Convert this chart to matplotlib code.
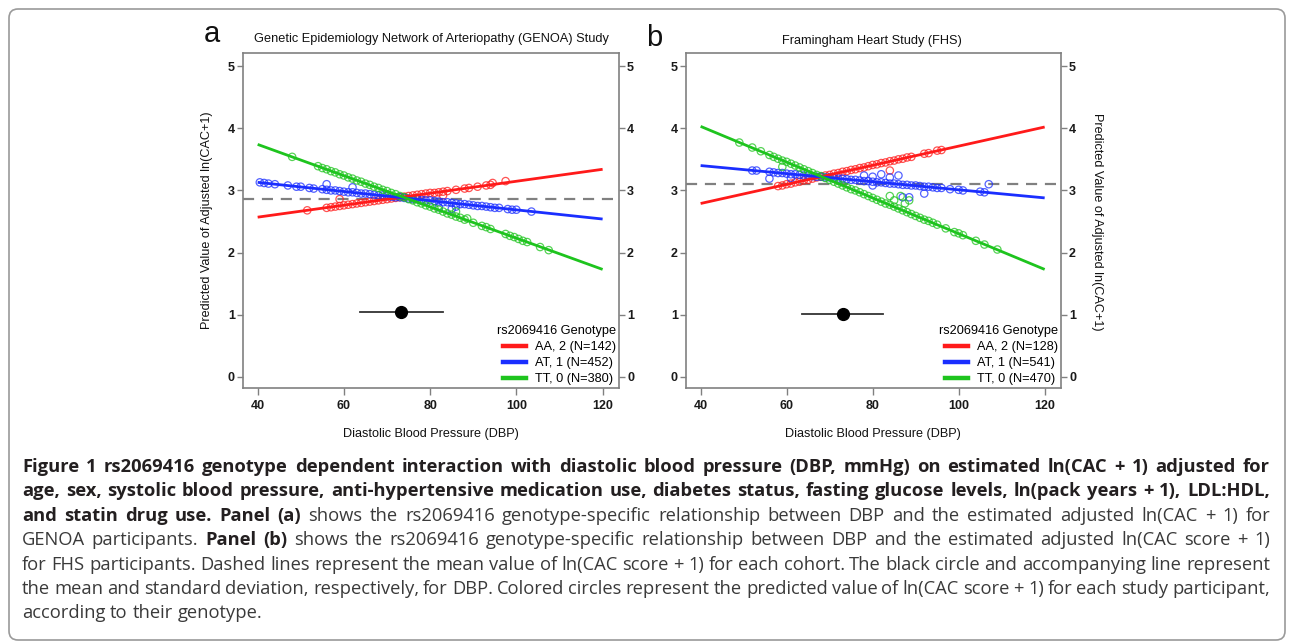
import matplotlib
matplotlib.use('Agg')
import matplotlib.pyplot as plt
from matplotlib.patches import FancyBboxPatch
from matplotlib.lines import Line2D
from matplotlib.transforms import IdentityTransform

# ---------------- data ----------------
genotype_labels_a = ["AA, 2 (N=142)", "AT, 1 (N=452)", "TT, 0 (N=380)"]
genotype_labels_b = ["AA, 2 (N=128)", "AT, 1 (N=541)", "TT, 0 (N=470)"]
legend_title = "rs2069416 Genotype"

fit_x = [40, 120]
# panel a fitted lines
a_red_fit = [2.57, 3.34]
a_blue_fit = [3.13, 2.54]
a_green_fit = [3.74, 1.73]
a_mean_cac = 2.87
a_dbp_mean, a_dbp_sd, a_dbp_y = 73.3, 9.6, 1.04
# panel b fitted lines
b_red_fit = [2.79, 4.02]
b_blue_fit = [3.40, 2.88]
b_green_fit = [4.03, 1.73]
b_mean_cac = 3.11
b_dbp_mean, b_dbp_sd, b_dbp_y = 73.0, 9.5, 1.02

# panel a participant predictions
a_red_x = [51.5, 56, 57, 58, 59, 59, 60, 61, 62, 63, 64, 65, 66, 67, 68, 69, 70, 71, 72, 73, 74, 75,
           76, 77, 78, 79, 80, 81, 82, 83, 83, 84, 86, 88, 89, 91, 93, 94, 94.5, 97.5]
a_red_y = [2.68, 2.72, 2.73, 2.74, 2.75, 2.86, 2.76, 2.77, 2.78, 2.79, 2.80, 2.81, 2.82, 2.83, 2.84,
           2.85, 2.86, 2.87, 2.88, 2.89, 2.90, 2.91, 2.92, 2.93, 2.94, 2.95, 2.96, 2.96, 2.97, 2.98,
           2.92, 2.99, 3.01, 3.03, 3.04, 3.06, 3.08, 3.09, 3.12, 3.15]
a_blue_x = [40.5, 41.5, 42.5, 44, 47, 49, 50, 52, 53, 55, 56, 56, 57, 58, 59, 60, 61, 62, 62, 63, 64,
            65, 66, 67, 68, 69, 70, 71, 72, 73, 74, 75, 76, 77, 78, 79, 80, 81, 82, 82, 83, 84, 85,
            85, 86, 86, 87, 88, 89, 90, 91, 92, 93, 94, 95, 96, 98, 99, 100, 103.5]
a_blue_y = [3.13, 3.12, 3.11, 3.10, 3.08, 3.06, 3.06, 3.04, 3.03, 3.02, 3.01, 3.10, 3.00, 3.00, 2.99,
            2.98, 2.97, 2.97, 3.05, 2.96, 2.95, 2.95, 2.94, 2.93, 2.92, 2.92, 2.91, 2.90, 2.89, 2.89,
            2.88, 2.87, 2.86, 2.86, 2.85, 2.84, 2.84, 2.83, 2.82, 2.73, 2.81, 2.81, 2.80, 2.70, 2.79,
            2.74, 2.78, 2.78, 2.77, 2.76, 2.75, 2.75, 2.74, 2.73, 2.72, 2.72, 2.70, 2.69, 2.69, 2.66]
a_green_x = [48, 54, 55, 56, 57, 58, 59, 60, 61, 62, 63, 64, 65, 66, 67, 68, 69, 70, 71, 72, 73, 74,
             75, 76, 77, 78, 79, 80, 81, 82, 83, 84, 85, 86, 86, 87, 88, 88.6, 90, 92, 93, 94, 97.5,
             98.5, 99.5, 100.5, 101.5, 102.5, 105.5, 107.5]
a_green_y = [3.54, 3.39, 3.36, 3.34, 3.31, 3.29, 3.26, 3.24, 3.21, 3.19, 3.16, 3.14, 3.11, 3.09, 3.06,
             3.04, 3.01, 2.99, 2.96, 2.94, 2.91, 2.89, 2.86, 2.84, 2.81, 2.79, 2.76, 2.74, 2.71, 2.69,
             2.66, 2.63, 2.61, 2.58, 2.66, 2.56, 2.53, 2.55, 2.48, 2.43, 2.41, 2.38, 2.30, 2.27, 2.25,
             2.22, 2.19, 2.17, 2.09, 2.04]

# panel b participant predictions
b_red_x = [58, 59, 60, 61, 62, 63, 64, 65, 66, 67, 68, 69, 70, 71, 72, 73, 74, 75, 76, 77, 78, 79,
           80, 81, 82, 83, 84, 84, 85, 86, 87, 88, 89, 92, 93, 95, 96]
b_red_y = [3.07, 3.08, 3.10, 3.11, 3.13, 3.14, 3.16, 3.17, 3.19, 3.21, 3.22, 3.24, 3.25, 3.27, 3.28,
           3.30, 3.31, 3.33, 3.34, 3.36, 3.37, 3.39, 3.41, 3.42, 3.44, 3.45, 3.47, 3.32, 3.48, 3.50,
           3.51, 3.53, 3.54, 3.59, 3.60, 3.64, 3.65]
b_blue_x = [52, 53, 56, 56, 57, 58, 59, 60, 61, 61, 62, 63, 64, 65, 66, 67, 68, 69, 70, 71, 72, 73,
            74, 75, 76, 77, 78, 78, 79, 80, 80, 80, 81, 82, 82, 83, 84, 84, 85, 86, 86, 87, 87, 88,
            88.5, 89, 90, 91, 92, 92, 93, 94, 95, 96, 98, 100, 101, 105, 106, 107]
b_blue_y = [3.32, 3.32, 3.30, 3.19, 3.29, 3.28, 3.28, 3.27, 3.26, 3.20, 3.26, 3.25, 3.24, 3.24, 3.23,
            3.22, 3.22, 3.21, 3.21, 3.20, 3.19, 3.19, 3.18, 3.17, 3.17, 3.16, 3.15, 3.24, 3.15, 3.14,
            3.22, 3.08, 3.13, 3.13, 3.26, 3.12, 3.11, 3.21, 3.11, 3.10, 3.24, 3.09, 2.89, 3.09, 2.89,
            3.08, 3.08, 3.07, 3.06, 2.95, 3.06, 3.05, 3.04, 3.04, 3.02, 3.01, 3.00, 2.98, 2.97, 3.10]
b_green_x = [49, 52, 54, 56, 57, 58, 59, 59, 60, 61, 62, 63, 64, 65, 66, 67, 68, 69, 70, 71, 72, 73,
             74, 75, 76, 77, 78, 79, 80, 81, 82, 83, 84, 84, 85, 85, 86, 86.5, 87, 87.5, 88, 88.5, 89,
             90, 91, 92, 93, 94, 95, 97, 99, 100, 101, 104, 106, 109]
b_green_y = [3.77, 3.69, 3.63, 3.57, 3.54, 3.51, 3.48, 3.38, 3.46, 3.43, 3.40, 3.37, 3.34, 3.31, 3.28,
             3.25, 3.23, 3.20, 3.17, 3.14, 3.11, 3.08, 3.05, 3.02, 3.00, 2.97, 2.94, 2.91, 2.88, 2.85,
             2.82, 2.79, 2.77, 2.91, 2.74, 2.84, 2.71, 2.91, 2.68, 2.79, 2.65, 2.84, 2.62, 2.59, 2.56,
             2.53, 2.51, 2.48, 2.45, 2.39, 2.33, 2.31, 2.28, 2.19, 2.13, 2.05]

x_ticks = [40, 60, 80, 100, 120]
y_ticks = [0, 1, 2, 3, 4, 5]

titles = ["Genetic Epidemiology Network of Arteriopathy (GENOA) Study", "Framingham Heart Study (FHS)"]
panel_letters = ["a", "b"]
xlabel = "Diastolic Blood Pressure (DBP)"
ylabel = "Predicted Value of Adjusted ln(CAC+1)"

caption_lines = [
    [("Figure 1 rs2069416 genotype dependent interaction with diastolic blood pressure (DBP, mmHg) on estimated ln(CAC + 1) adjusted for", True)],
    [("age, sex, systolic blood pressure, anti-hypertensive medication use, diabetes status, fasting glucose levels, ln(pack years + 1), LDL:HDL,", True)],
    [("and statin drug use. Panel (a)", True), ("shows the rs2069416 genotype-specific relationship between DBP and the estimated adjusted ln(CAC + 1) for", False)],
    [("GENOA participants.", False), ("Panel (b)", True), ("shows the rs2069416 genotype-specific relationship between DBP and the estimated adjusted ln(CAC score + 1)", False)],
    [("for FHS participants. Dashed lines represent the mean value of ln(CAC score + 1) for each cohort. The black circle and accompanying line represent", False)],
    [("the mean and standard deviation, respectively, for DBP. Colored circles represent the predicted value of ln(CAC score + 1) for each study participant,", False)],
    [("according to their genotype.", False)],
]

# ---------------- style ----------------
W, H = 1290, 644
RED, BLUE, GREEN = "#ff1a1a", "#1a2eff", "#1ec41e"
GRAY = "#808080"
CHART_FONT = "Liberation Sans"

fig = plt.figure(figsize=(W / 100, H / 100), dpi=100)


def fx(x):
    return x / W


def fy(y):
    return 1 - y / H


def make_panel(left_px, right_px, red_fit, blue_fit, green_fit, mean_cac,
               dbp_mean, dbp_sd, dbp_y, pts, labels):
    top_px, bot_px = 53, 388
    ax = fig.add_axes([fx(left_px), fy(bot_px), (right_px - left_px) / W, (bot_px - top_px) / H])
    ax.set_xlim(36.6, 123.8)
    ax.set_ylim(-0.177, 5.21)
    ax.axhline(mean_cac, color=GRAY, lw=1.6, ls=(0, (5, 3.5)), zorder=1)
    for (xs, ys), c in zip(pts, [RED, BLUE, GREEN]):
        ax.scatter(xs, ys, s=28, facecolors="none", edgecolors=c, linewidths=0.9, alpha=0.75, zorder=2)
    for fit, c in zip([red_fit, blue_fit, green_fit], [RED, BLUE, GREEN]):
        ax.plot(fit_x, fit, color=c, lw=2.0, zorder=3, solid_capstyle="butt")
    ax.plot([dbp_mean - dbp_sd, dbp_mean + dbp_sd], [dbp_y, dbp_y], color="#333333", lw=1.3, zorder=4)
    ax.plot([dbp_mean], [dbp_y], "o", color="black", ms=8.5, zorder=5)
    ax.set_xticks(x_ticks)
    ax.set_yticks(y_ticks)
    for s in ax.spines.values():
        s.set_color(GRAY)
        s.set_linewidth(1.2)
    ax.tick_params(axis="y", which="both", left=True, right=True, labelleft=True, labelright=True,
                   direction="out", length=4.3, width=1.0, color=GRAY, pad=1.5)
    ax.tick_params(axis="x", direction="out", length=5, width=1.0, color=GRAY, pad=3.5)
    for lab in ax.get_xticklabels():
        lab.set_fontfamily(CHART_FONT)
        lab.set_fontweight("bold")
        lab.set_fontsize(9)
        lab.set_color("#1a1a1a")
    for tick in ax.yaxis.get_major_ticks():
        for lab in (tick.label1, tick.label2):
            lab.set_fontfamily(CHART_FONT)
            lab.set_fontweight("bold")
            lab.set_fontsize(9)
            lab.set_color("#1a1a1a")
    handles = [Line2D([], [], color=c, lw=3.2) for c in [RED, BLUE, GREEN]]
    ax.legend(handles, labels, title=legend_title, loc="lower right", frameon=False,
              prop={"family": CHART_FONT, "size": 9.2},
              title_fontproperties={"family": CHART_FONT, "size": 9.2},
              handlelength=1.85, handletextpad=0.7, labelspacing=0.32, borderaxespad=0.1,
              borderpad=0.1, alignment="right")
    return ax


ax_a = make_panel(243, 619, a_red_fit, a_blue_fit, a_green_fit, a_mean_cac, a_dbp_mean, a_dbp_sd, a_dbp_y,
                  [(a_red_x, a_red_y), (a_blue_x, a_blue_y), (a_green_x, a_green_y)], genotype_labels_a)
ax_b = make_panel(686, 1061, b_red_fit, b_blue_fit, b_green_fit, b_mean_cac, b_dbp_mean, b_dbp_sd, b_dbp_y,
                  [(b_red_x, b_red_y), (b_blue_x, b_blue_y), (b_green_x, b_green_y)], genotype_labels_b)

# titles, labels, panel letters
LBL = 9.1
fig.text(fx(431), fy(39), titles[0], ha="center", va="center", fontsize=9.2, family=CHART_FONT, color="#111111")
fig.text(fx(872), fy(41), titles[1], ha="center", va="center", fontsize=9.2, family=CHART_FONT, color="#111111")
fig.text(fx(212), fy(34), panel_letters[0], ha="center", va="center", fontsize=21, family=CHART_FONT, color="#111111")
fig.text(fx(654), fy(38), panel_letters[1], ha="center", va="center", fontsize=21, family=CHART_FONT, color="#111111")
fig.text(fx(431), fy(434), xlabel, ha="center", va="center", fontsize=LBL, family=CHART_FONT, color="#111111")
fig.text(fx(873), fy(434), xlabel, ha="center", va="center", fontsize=LBL, family=CHART_FONT, color="#111111")
fig.text(fx(207), fy(220), ylabel, ha="center", va="center", rotation=90, fontsize=LBL, family=CHART_FONT, color="#111111")
fig.text(fx(1097), fy(222), ylabel, ha="center", va="center", rotation=270, fontsize=LBL, family=CHART_FONT, color="#111111")

# border
border = FancyBboxPatch((9, 4), 1276, 631, boxstyle="round,pad=0,rounding_size=9",
                        transform=IdentityTransform(), facecolor="none", edgecolor="#9a9a9a", linewidth=1.2)
fig.add_artist(border)

# caption (justified)
renderer = fig.canvas.get_renderer()
CAP_FONT = "Open Sans"
CAP_SIZE = 13.2
x_left, x_right = 22, 1270
baseline0, line_step = 472, 24.4


def place_line(tokens, baseline, justify):
    words = []
    for seg, bold in tokens:
        for w in seg.split():
            words.append((w, bold))
    texts, widths = [], []
    for w, bold in words:
        t = fig.text(0, fy(baseline), w, ha="left", va="baseline", fontsize=CAP_SIZE, family=CAP_FONT,
                     fontweight="bold" if bold else "normal",
                     color="#231f20" if bold else "#3a3a3a")
        widths.append(t.get_window_extent(renderer=renderer).width)
        texts.append(t)
    sp = CAP_SIZE * 100 / 72 * 0.26
    if justify and len(words) > 1:
        gap = (x_right - x_left - sum(widths)) / (len(words) - 1)
    else:
        gap = sp
    x = x_left
    for t, wd in zip(texts, widths):
        t.set_x(fx(x))
        x += wd + gap


for i, toks in enumerate(caption_lines):
    place_line(toks, baseline0 + i * line_step, justify=(i < len(caption_lines) - 1))

fig.savefig("out.png", dpi=100)
